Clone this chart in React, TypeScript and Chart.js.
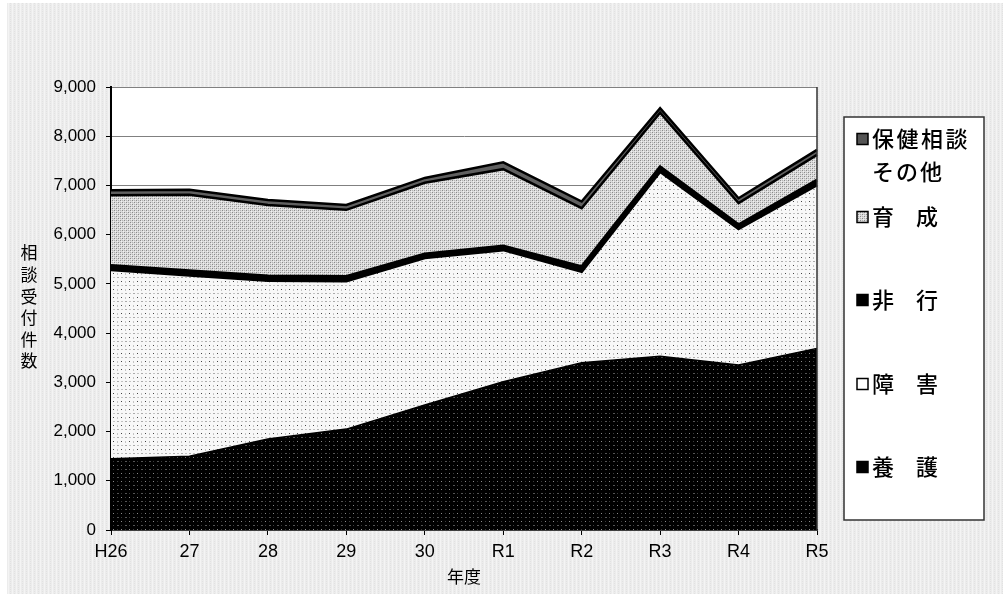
import React, { useEffect, useRef } from "react";
import { Chart, registerables } from "chart.js";

Chart.register(...registerables);

const categories = ["H26", "27", "28", "29", "30", "R1", "R2", "R3", "R4", "R5"];
const yogo = [1450, 1500, 1850, 2050, 2540, 3010, 3400, 3530, 3350, 3690];
const shogai = [3835, 3675, 3220, 3010, 2990, 2680, 1850, 3750, 2770, 3320];
const hiko = [90, 90, 90, 90, 80, 80, 100, 100, 80, 100];
const ikusei = [1425, 1545, 1445, 1355, 1443, 1561, 1188, 1100, 440, 512];
const hoken = [100, 100, 100, 100, 100, 140, 135, 90, 100, 100];

const FONT = '"Liberation Sans", "Noto Sans CJK JP", sans-serif';
const JFONT = '"Noto Sans CJK JP", "Liberation Sans", sans-serif';

function makePattern(w: number, h: number, draw: (g: CanvasRenderingContext2D) => void) {
  const c = document.createElement("canvas");
  c.width = w;
  c.height = h;
  const g = c.getContext("2d")!;
  draw(g);
  return g.createPattern(c, "repeat")!;
}

export default function App() {
  const ref = useRef<HTMLCanvasElement | null>(null);

  useEffect(() => {
    document.body.style.margin = "0";
    const canvas = ref.current!;

    const yogoPat = makePattern(8, 8, (g) => {
      g.fillStyle = "#000";
      g.fillRect(0, 0, 8, 8);
      g.fillStyle = "#8a8a8a";
      g.fillRect(1, 1, 1, 1);
      g.fillStyle = "#555";
      g.fillRect(5, 5, 2, 1);
      g.fillStyle = "#3a3a3a";
      g.fillRect(5, 1, 1, 1);
      g.fillRect(1, 5, 1, 1);
    });
    const shogaiPat = makePattern(8, 8, (g) => {
      g.fillStyle = "#f8f8f8";
      g.fillRect(0, 0, 8, 8);
      g.fillStyle = "#444";
      g.fillRect(1, 1, 1, 1);
      g.fillStyle = "#aaa";
      g.fillRect(5, 5, 2, 1);
      g.fillStyle = "#c4c4c4";
      g.fillRect(5, 1, 1, 2);
      g.fillRect(1, 5, 2, 1);
    });
    const ikuseiPat = makePattern(4, 4, (g) => {
      g.fillStyle = "#dcdcdc";
      g.fillRect(0, 0, 4, 4);
      g.fillStyle = "#8a8a8a";
      g.fillRect(0, 0, 1, 1);
      g.fillRect(2, 2, 1, 1);
      g.fillStyle = "#b4b4b4";
      g.fillRect(2, 0, 1, 1);
      g.fillRect(0, 2, 1, 1);
      g.fillStyle = "#f0f0f0";
      g.fillRect(1, 1, 1, 1);
      g.fillRect(3, 3, 1, 1);
    });
    const bgPat = makePattern(4, 4, (g) => {
      g.fillStyle = "#ececec";
      g.fillRect(0, 0, 4, 4);
      g.fillStyle = "#f4f4f4";
      g.fillRect(0, 0, 1, 4);
      g.fillStyle = "#e2e2e2";
      g.fillRect(2, 1, 1, 1);
      g.fillRect(2, 3, 1, 1);
    });

    const bgPlugin = {
      id: "bg",
      beforeDraw(chart: any) {
        const ctx = chart.ctx;
        const { left, right, top, bottom } = chart.chartArea;
        ctx.save();
        ctx.fillStyle = "#fff";
        ctx.fillRect(0, 0, chart.width, chart.height);
        ctx.fillStyle = bgPat;
        ctx.fillRect(7, 3, chart.width - 7, chart.height - 3);
        ctx.fillStyle = "#fff";
        ctx.fillRect(left, top, right - left, bottom - top);
        ctx.restore();
      },
      afterDraw(chart: any) {
        const ctx = chart.ctx;
        const { left, right, top, bottom } = chart.chartArea;
        ctx.save();
        ctx.strokeStyle = "#333";
        ctx.lineWidth = 1.5;
        ctx.beginPath();
        ctx.moveTo(right, top);
        ctx.lineTo(right, bottom);
        ctx.stroke();

        ctx.fillStyle = "#000";
        ctx.font = `17px ${JFONT}`;
        ctx.textAlign = "center";
        ctx.textBaseline = "middle";
        ctx.fillText("年度", (left + right) / 2, 577);
        const ytitle = "相談受付件数";
        for (let i = 0; i < ytitle.length; i++) {
          ctx.fillText(ytitle[i], 29, 253 + i * 21.6);
        }

        ctx.fillStyle = "#fff";
        ctx.fillRect(844, 117, 140, 403);
        ctx.strokeStyle = "#333";
        ctx.lineWidth = 1.5;
        ctx.strokeRect(844, 117, 140, 403);

        const items: [string[], any, number][] = [
          [["保", "健", "相", "談"], "#555", 139],
          [["育", "成"], ikuseiPat, 217],
          [["非", "行"], "#000", 300],
          [["障", "害"], "#fff", 384],
          [["養", "護"], "#000", 467],
        ];
        ctx.font = `500 22px ${JFONT}`;
        ctx.textAlign = "left";
        ctx.textBaseline = "middle";
        for (const [chars, fill, y] of items) {
          ctx.fillStyle = fill;
          ctx.fillRect(857, y - 5.5, 11, 11);
          ctx.strokeStyle = "#000";
          ctx.lineWidth = 1.5;
          ctx.strokeRect(857, y - 5.5, 11, 11);
          ctx.fillStyle = "#000";
          if (chars.length === 4) {
            chars.forEach((c, i) => ctx.fillText(c, 872 + i * 24.5, y));
          } else {
            ctx.fillText(chars[0], 872, y);
            ctx.fillText(chars[1], 916, y);
          }
        }
        ["そ", "の", "他"].forEach((c, i) => ctx.fillText(c, 872 + i * 24, 172));
        ctx.restore();
      },
    };

    const common = {
      pointRadius: 0,
      tension: 0,
      borderColor: "#000",
      borderJoinStyle: "miter" as const,
    };

    const chart = new Chart(canvas, {
      type: "line",
      data: {
        labels: categories,
        datasets: [
          { ...common, label: "養護", data: yogo, backgroundColor: yogoPat, fill: "origin", borderWidth: 1.5 },
          { ...common, label: "障害", data: shogai, backgroundColor: shogaiPat, fill: "-1", borderWidth: 3 },
          { ...common, label: "非行", data: hiko, backgroundColor: "#000", fill: "-1", borderWidth: 3 },
          { ...common, label: "育成", data: ikusei, backgroundColor: ikuseiPat, fill: "-1", borderWidth: 2.5 },
          { ...common, label: "保健相談その他", data: hoken, backgroundColor: "#606060", fill: "-1", borderWidth: 2.5 },
        ],
      },
      options: {
        animation: false,
        responsive: false,
        devicePixelRatio: 1,
        layout: { padding: { top: 87, right: 186, left: 0, bottom: 0 } },
        plugins: { legend: { display: false }, tooltip: { enabled: false } },
        scales: {
          x: {
            stacked: true,
            offset: false,
            grid: { drawOnChartArea: false, drawTicks: true, tickLength: 5, color: "#000" },
            border: { color: "#000", width: 1.5 },
            ticks: { color: "#000", font: { family: FONT, size: 18 }, padding: 6, maxRotation: 0, autoSkip: false },
            afterFit(scale: any) {
              scale.height = 64;
            },
          },
          y: {
            stacked: true,
            min: 0,
            max: 9000,
            grid: { color: "#808080", lineWidth: 1, tickLength: 5, tickColor: "#000" },
            border: { color: "#000", width: 2 },
            ticks: {
              stepSize: 1000,
              color: "#000",
              font: { family: FONT, size: 17 },
              padding: 10,
              callback: (v: any) => Number(v).toLocaleString("en-US"),
            },
            afterFit(scale: any) {
              scale.width = 111;
            },
          },
        },
      },
      plugins: [bgPlugin],
    });

    return () => chart.destroy();
  }, []);

  return (
    <div style={{ position: "absolute", left: 0, top: 0, width: 1003, height: 594 }}>
      <canvas ref={ref} width={1003} height={594} style={{ width: 1003, height: 594 }} />
    </div>
  );
}
